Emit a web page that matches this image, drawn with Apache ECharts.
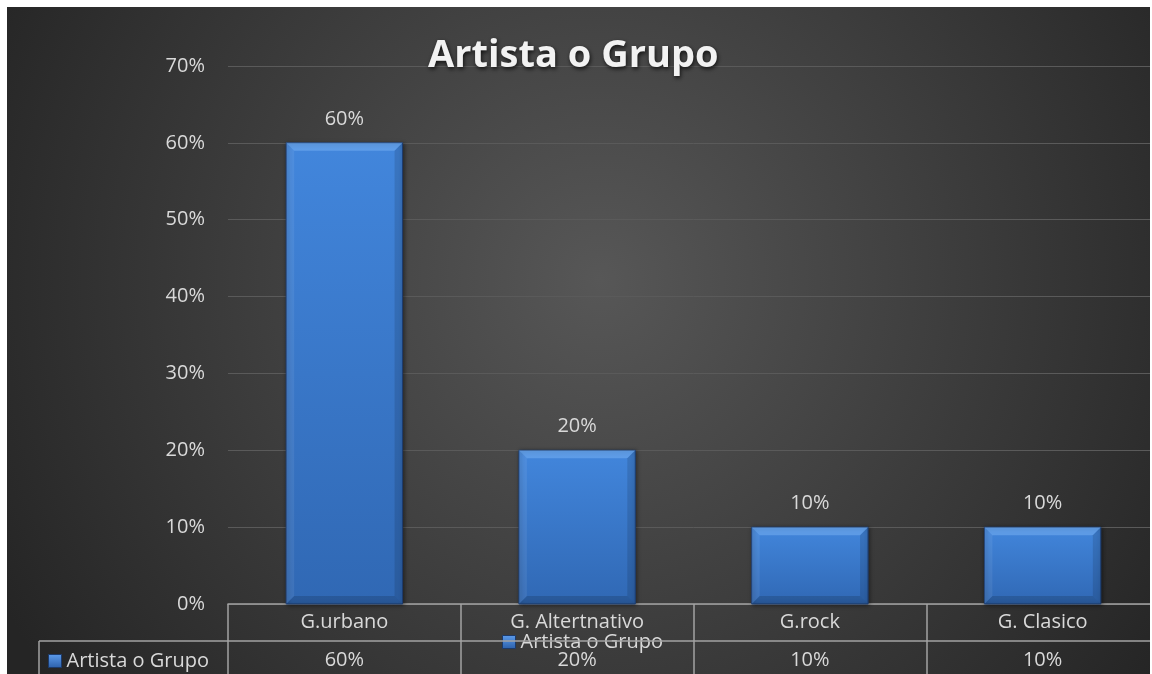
<!DOCTYPE html>
<html>
<head>
<meta charset="utf-8">
<script src="https://cdn.jsdelivr.net/npm/echarts@6/dist/echarts.min.js"></script>
<style>
  html, body { margin: 0; padding: 0; background: #ffffff; overflow: hidden; }
  #chart { width: 1160px; height: 674px; }
</style>
</head>
<body>
<div id="chart"></div>
<script>
// Chart data
const titleText = 'Artista o Grupo';
const seriesName = 'Artista o Grupo';
const categories = ['G.urbano', 'G. Altertnativo', 'G.rock', 'G. Clasico'];
const shares = [0.60, 0.20, 0.10, 0.10];
const yMin = 0;
const yMax = 0.70;
const yStep = 0.10;

const pct = v => Math.round(v * 100) + '%';
const valueRow = shares.map(pct);

const FONT = '"Open Sans", "Noto Sans", sans-serif';
const TEXT = '#d9d9d9';
const TABLE_LINE = '#a3a3a3';

const chart = echarts.init(document.getElementById('chart'), null, { renderer: 'canvas' });

// Bevelled bar: face + four bevel facets + value label above
function renderBar(params, api) {
  const idx = api.value(0);
  const val = api.value(1);
  const pTop = api.coord([idx, val]);
  const pBase = api.coord([idx, 0]);
  const bw = api.size([1, 0])[0] * 0.5;
  const x0 = pTop[0] - bw / 2, x1 = pTop[0] + bw / 2;
  const y0 = pTop[1], y1 = pBase[1];
  const b = 8;
  const face = new echarts.graphic.LinearGradient(0, 0, 0, 1, [
    { offset: 0, color: '#4286dc' },
    { offset: 1, color: '#3068b4' }
  ]);
  return {
    type: 'group',
    children: [
      { type: 'rect', shape: { x: x0, y: y0, width: bw, height: y1 - y0 },
        style: { fill: face, stroke: '#1f4177', lineWidth: 1, shadowBlur: 4, shadowColor: 'rgba(0,0,0,0.45)', shadowOffsetX: 1, shadowOffsetY: 1 } },
      { type: 'polygon', shape: { points: [[x0, y0], [x1, y0], [x1 - b, y0 + b], [x0 + b, y0 + b]] },
        style: { fill: 'rgba(150,200,255,0.35)' } },
      { type: 'polygon', shape: { points: [[x0, y0], [x0 + b, y0 + b], [x0 + b, y1 - b], [x0, y1]] },
        style: { fill: 'rgba(255,255,255,0.07)' } },
      { type: 'polygon', shape: { points: [[x1, y0], [x1, y1], [x1 - b, y1 - b], [x1 - b, y0 + b]] },
        style: { fill: 'rgba(0,0,0,0.12)' } },
      { type: 'polygon', shape: { points: [[x0, y1], [x1, y1], [x1 - b, y1 - b], [x0 + b, y1 - b]] },
        style: { fill: 'rgba(0,0,0,0.15)' } },
      { type: 'text', x: pTop[0], y: y0 - 14,
        style: { text: pct(val), fill: TEXT, font: '20px ' + FONT, align: 'center', verticalAlign: 'bottom' } }
    ]
  };
}

const legendCommon = {
  orient: 'horizontal',
  padding: 0,
  itemWidth: 13,
  itemHeight: 13,
  icon: 'rect',
  itemStyle: {
    color: new echarts.graphic.LinearGradient(0, 0, 0, 1, [
      { offset: 0, color: '#5d9cec' }, { offset: 1, color: '#2c60aa' }
    ]),
    borderColor: '#1c3a6a',
    borderWidth: 1
  },
  textStyle: { color: TEXT, fontSize: 20, fontFamily: FONT }
};

const option = {
  animation: false,
  backgroundColor: 'transparent',
  title: {
    text: titleText,
    left: 428,
    top: 37,
    padding: 0,
    textStyle: {
      color: '#f2f2f2', fontSize: 38, fontWeight: 'bold', fontFamily: FONT,
      textShadowColor: 'rgba(0,0,0,0.75)', textShadowBlur: 4,
      textShadowOffsetX: 1, textShadowOffsetY: 2
    }
  },
  legend: [
    Object.assign({ left: 502, top: 632, data: [seriesName] }, legendCommon),
    Object.assign({ left: 48, top: 651, data: [seriesName] }, legendCommon)
  ],
  grid: { left: 228, right: 1, top: 66, bottom: 70, containLabel: false },
  xAxis: [
    {
      type: 'category',
      data: categories,
      boundaryGap: true,
      axisLine: { show: true, lineStyle: { color: TABLE_LINE, width: 1.5 } },
      axisTick: { show: true, length: 72, interval: 0, lineStyle: { color: TABLE_LINE, width: 1.5 } },
      axisLabel: { margin: 8, color: TEXT, fontSize: 20, fontFamily: FONT, interval: 0 },
      splitLine: { show: false }
    },
    {
      type: 'category',
      data: valueRow,
      position: 'bottom',
      offset: 0,
      axisLine: { show: false },
      axisTick: { show: false },
      axisLabel: { margin: 46, color: TEXT, fontSize: 20, fontFamily: FONT, interval: 0 },
      splitLine: { show: false }
    }
  ],
  yAxis: {
    type: 'value',
    min: yMin,
    max: yMax,
    interval: yStep,
    axisLine: { show: false },
    axisTick: { show: false },
    axisLabel: { margin: 23, color: TEXT, fontSize: 20, fontFamily: FONT, formatter: pct },
    splitLine: { show: true, lineStyle: { color: '#5a5a5a', width: 1 } }
  },
  graphic: [
    {
      type: 'rect', z: -10, silent: true,
      shape: { x: 7, y: 7, width: 1153, height: 667 },
      style: {
        fill: new echarts.graphic.RadialGradient(600, 280, 680, [
          { offset: 0, color: '#575757' },
          { offset: 1, color: '#252525' }
        ], true)
      }
    },
    { type: 'line', z: 50, silent: true, shape: { x1: 39, y1: 641, x2: 1160, y2: 641 },
      style: { stroke: TABLE_LINE, lineWidth: 1.5 } },
    { type: 'line', z: 50, silent: true, shape: { x1: 39, y1: 641, x2: 39, y2: 674 },
      style: { stroke: TABLE_LINE, lineWidth: 1.5 } },
    { type: 'rect', z: 200, silent: true, shape: { x: 1150, y: 0, width: 10, height: 674 },
      style: { fill: '#ffffff' } }
  ],
  series: [
    {
      name: seriesName,
      type: 'custom',
      renderItem: renderBar,
      xAxisIndex: 0,
      yAxisIndex: 0,
      itemStyle: { color: '#3b7bd1' },
      data: shares.map((v, i) => [i, v]),
      z: 3
    }
  ]
};

chart.setOption(option);
</script>
</body>
</html>
